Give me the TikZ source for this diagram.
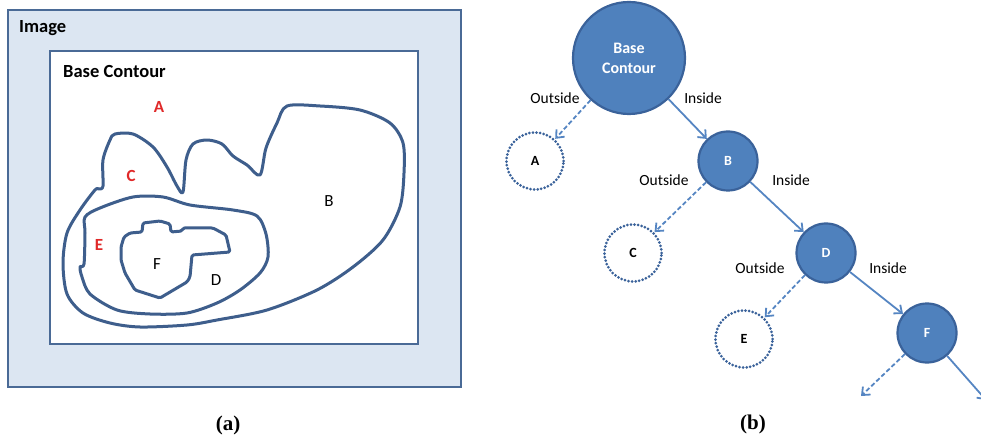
\documentclass[tikz,border=0pt]{standalone}
\usepackage{fontspec}
\setmainfont{Carlito}
\newfontfamily\capfont{Liberation Serif}
\usetikzlibrary{arrows.meta}
\definecolor{framefill}{HTML}{DCE6F2}
\definecolor{frameline}{HTML}{4A6A96}
\definecolor{contourline}{HTML}{3E5E8C}
\definecolor{nodefill}{HTML}{4F81BD}
\definecolor{nodeline}{HTML}{3A629A}
\definecolor{arrowcol}{HTML}{5585C2}
\definecolor{labelred}{HTML}{E02828}
\begin{document}
\begin{tikzpicture}[x=1pt,y=-1pt,
  frame/.style={draw=frameline,line width=2.8pt},
  contour/.style={draw=contourline,line width=3pt,line join=round},
  paneltitle/.style={font=\fontsize{18.5}{20}\selectfont\bfseries,anchor=west,inner sep=0pt},
  regred/.style={font=\fontsize{17}{19}\selectfont\bfseries,text=labelred,inner sep=0pt},
  regblack/.style={font=\fontsize{17}{19}\selectfont,text=black,inner sep=0pt},
  solidnode/.style={circle,fill=nodefill,draw=nodeline,line width=2.2pt,minimum size=59pt,inner sep=0pt,text=white,font=\fontsize{14}{15}\selectfont\bfseries},
  leafnode/.style={circle,draw=nodeline,line width=3pt,dash pattern=on 0pt off 3.6pt,line cap=round,minimum size=57pt,inner sep=0pt,text=black,font=\fontsize{14}{15}\selectfont\bfseries},
  edgelabel/.style={font=\fontsize{15.5}{17}\selectfont,inner sep=0pt},
  inlink/.style={draw=arrowcol,line width=1.8pt,-{Straight Barb[length=6.5pt,width=11pt,line width=1.8pt]}},
  outlink/.style={inlink,dash pattern=on 4.5pt off 2.5pt},
  caption/.style={font=\capfont\fontsize{21}{23}\selectfont\bfseries,inner sep=0pt}
]
\useasboundingbox (0,0) rectangle (981,443);

% ---------------- panel (a): nested contours ----------------
\fill[framefill] (8,10) rectangle (461,387);
\draw[frame] (8,10) rectangle (461,387);
\fill[white] (50,51) rectangle (418,344);
\draw[frame] (50,51) rectangle (418,344);
\node[paneltitle] (imgtitle) at (19,28) {Image};
\node[paneltitle] (basetitle) at (63,72) {Base Contour};

% contour B (outermost)
\draw[contour] plot[smooth cycle,tension=0.5] coordinates {
  (103,186) (103,160) (110,140) (115,134) (133,134) (153,147) (167,167)
  (177,186) (183,192) (186,160) (193,144) (207,140) (222,144) (233,156)
  (247,165) (260,175) (266,148) (277,123) (287,106) (320,106) (360,110)
  (390,123) (403,143) (404,173) (400,207) (383,240) (353,267) (317,290)
  (267,310) (217,320) (187,325) (140,327) (110,323) (83,313) (67,294)
  (63,263) (67,233) (80,210) (95,190) (99,189)};

% contour D (middle)
\draw[contour] plot[smooth cycle,tension=0.5] coordinates {
  (85,217) (100,208) (133,197) (163,197) (190,205) (233,210) (257,216)
  (266,234) (268,257) (260,273) (240,290) (217,303) (187,313) (150,314)
  (117,310) (90,294) (82,277) (80,267) (84,264) (85,233)};

% contour F (innermost, jagged)
\draw[contour,rounded corners=1.5pt] (121,247) -- (124,237) -- (130,233)
  -- (142,232) -- (143,223) -- (160,221) -- (170,224) -- (171,232)
  -- (182,231) -- (183,228) -- (213,228) -- (226,235) -- (230,252)
  -- (192,255) -- (190,277) -- (187,282) -- (160,298) -- (135,290)
  -- (125,273) -- (121,260) -- cycle;

\node[regred] (la) at (159,107) {A};
\node[regred] (lc) at (131,176) {C};
\node[regred] (le) at (99,245) {E};
\node[regblack] (lf) at (157,264) {F};
\node[regblack] (ld) at (216,280) {D};
\node[regblack] (lb) at (329,201) {B};

% ---------------- panel (b): containment tree ----------------
\node[solidnode,minimum size=112pt,align=center,font=\fontsize{16}{20}\selectfont\bfseries] (base) at (629,58) {Base\\Contour};
\node[leafnode] (ta) at (535,161) {A};
\node[solidnode] (tb) at (728,161) {B};
\node[leafnode] (tc) at (633,253) {C};
\node[solidnode] (td) at (826,253) {D};
\node[leafnode] (te) at (744,339) {E};
\node[solidnode] (tf) at (927,333) {F};
\coordinate (fout) at (861,396);
\coordinate (fin) at (986,400);

\draw[outlink] (base) -- (ta);
\draw[inlink] (base) -- (tb);
\draw[outlink] (tb) -- (tc);
\draw[inlink] (tb) -- (td);
\draw[outlink] (td) -- (te);
\draw[inlink] (td) -- (tf);
\draw[outlink] (tf) -- (fout);
\draw[inlink] (tf) -- (fin);

\node[edgelabel] (o1) at (555,98) {Outside};
\node[edgelabel] (i1) at (703,98) {Inside};
\node[edgelabel] (o2) at (664,180) {Outside};
\node[edgelabel] (i2) at (791,180) {Inside};
\node[edgelabel] (o3) at (760,268) {Outside};
\node[edgelabel] (i3) at (888,268) {Inside};

\node[caption] (capa) at (228,425) {(a)};
\node[caption] (capb) at (753,424) {(b)};
\end{tikzpicture}
\end{document}
